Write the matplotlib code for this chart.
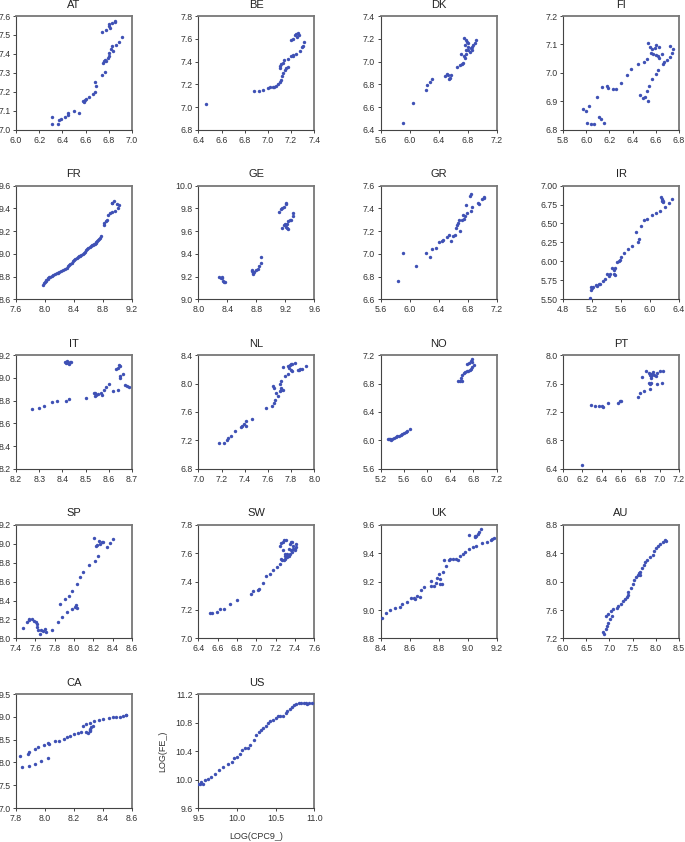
import numpy as np
import matplotlib
matplotlib.use("Agg")
import matplotlib.pyplot as plt

plt.rcParams['font.family'] = ['Liberation Sans', 'DejaVu Sans']

# --- data (x = LOG(CPC9_), y = LOG(FE_)) ---
at_x = [6.31, 6.31, 6.36, 6.37, 6.385, 6.42, 6.45, 6.45, 6.50, 6.54, 6.58, 6.595, 6.59, 6.60, 6.63, 6.66,
        6.68, 6.69, 6.68, 6.74, 6.77, 6.75, 6.755, 6.77, 6.78, 6.79, 6.80, 6.805, 6.816, 6.83, 6.84, 6.86,
        6.886, 6.91, 6.74, 6.78, 6.80, 6.81, 6.805, 6.83, 6.85, 6.855]
at_y = [7.067, 7.03, 7.03, 7.053, 7.06, 7.07, 7.08, 7.09, 7.10, 7.09, 7.15, 7.16, 7.145, 7.165, 7.175, 7.19,
        7.20, 7.23, 7.25, 7.29, 7.305, 7.355, 7.365, 7.37, 7.365, 7.38, 7.39, 7.405, 7.425, 7.44, 7.415, 7.445,
        7.465, 7.49, 7.515, 7.525, 7.545, 7.535, 7.56, 7.565, 7.57, 7.573]

be_x = [6.47, 6.884, 6.92, 6.96, 7.0, 7.02, 7.04, 7.05, 7.07, 7.09, 7.10, 7.11, 7.12, 7.134, 7.15, 7.16,
        7.17, 7.10, 7.10, 7.11, 7.13, 7.135, 7.17, 7.20, 7.22, 7.245, 7.22, 7.28, 7.29, 7.30, 7.31, 7.20,
        7.22, 7.23, 7.24, 7.25, 7.26, 7.27]
be_y = [7.03, 7.14, 7.14, 7.15, 7.165, 7.18, 7.175, 7.175, 7.186, 7.20, 7.22, 7.24, 7.27, 7.30, 7.33, 7.34,
        7.355, 7.34, 7.365, 7.38, 7.39, 7.41, 7.42, 7.445, 7.46, 7.47, 7.45, 7.49, 7.53, 7.54, 7.57, 7.59,
        7.60, 7.63, 7.645, 7.62, 7.65, 7.63]

dk_x = [5.91, 6.047, 6.22, 6.24, 6.28, 6.31, 6.49, 6.51, 6.53, 6.55, 6.57, 6.54, 6.65, 6.70, 6.72, 6.74,
        6.76, 6.71, 6.75, 6.78, 6.81, 6.78, 6.84, 6.86, 6.81, 6.77, 6.79, 6.75, 6.78, 6.88, 6.905, 6.92,
        6.83, 6.86, 6.81]
dk_y = [6.46, 6.634, 6.75, 6.795, 6.82, 6.845, 6.875, 6.89, 6.88, 6.86, 6.88, 6.85, 6.95, 6.97, 6.98, 6.99,
        7.03, 7.07, 7.05, 7.07, 7.10, 7.105, 7.12, 7.13, 7.13, 7.145, 7.175, 7.205, 7.19, 7.145, 7.165, 7.19,
        7.08, 7.10, 7.16]

fi_x = [5.974, 5.997, 6.02, 6.01, 6.04, 6.07, 6.11, 6.13, 6.15, 6.09, 6.14, 6.18, 6.19, 6.23, 6.26, 6.30,
        6.35, 6.39, 6.45, 6.50, 6.52, 6.53, 6.55, 6.57, 6.59, 6.60, 6.56, 6.58, 6.60, 6.62, 6.63, 6.63,
        6.65, 6.46, 6.49, 6.51, 6.53, 6.52, 6.54, 6.57, 6.60, 6.62, 6.66, 6.67, 6.70, 6.72, 6.74, 6.75, 6.72]
fi_y = [6.874, 6.868, 6.884, 6.826, 6.82, 6.82, 6.847, 6.837, 6.826, 6.917, 6.95, 6.955, 6.947, 6.945, 6.943,
        6.966, 6.993, 7.013, 7.03, 7.04, 7.05, 7.106, 7.092, 7.084, 7.089, 7.098, 7.07, 7.065, 7.063, 7.06,
        7.09, 7.052, 7.066, 6.923, 6.913, 6.917, 6.903, 6.937, 6.954, 6.98, 6.996, 7.01, 7.03, 7.04, 7.047,
        7.055, 7.07, 7.085, 7.096]

fr_x = [7.977, 7.99, 8.0, 8.01, 8.02, 8.035, 8.046, 8.06, 8.07, 8.09, 8.11, 8.135, 8.16, 8.18, 8.20, 8.225,
        8.25, 8.275, 8.30, 8.315, 8.33, 8.35, 8.37, 8.385, 8.40, 8.42, 8.44, 8.455, 8.47, 8.485, 8.50, 8.52,
        8.54, 8.55, 8.565, 8.58, 8.60, 8.615, 8.63, 8.645, 8.66, 8.675, 8.69, 8.70, 8.71, 8.72, 8.73, 8.745,
        8.76, 8.77, 8.81, 8.82, 8.835, 8.85, 8.87, 8.90, 8.92, 8.93, 8.95, 8.99, 9.02, 9.01, 8.96, 8.93]
fr_y = [8.73, 8.745, 8.755, 8.765, 8.77, 8.78, 8.79, 8.795, 8.80, 8.81, 8.815, 8.822, 8.83, 8.835, 8.84,
        8.85, 8.86, 8.87, 8.88, 8.89, 8.90, 8.91, 8.92, 8.935, 8.95, 8.955, 8.96, 8.97, 8.98, 8.985, 8.99,
        9.0, 9.01, 9.02, 9.03, 9.04, 9.05, 9.06, 9.07, 9.075, 9.08, 9.085, 9.09, 9.095, 9.10, 9.11, 9.12, 9.13,
        9.14, 9.16, 9.25, 9.27, 9.29, 9.30, 9.34, 9.36, 9.45, 9.45, 9.46, 9.44, 9.43, 9.40, 9.38, 9.37]

ge_x = [8.28, 8.31, 8.33, 8.34, 8.37, 8.35, 8.325, 8.74, 8.75, 8.77, 8.76, 8.80, 8.82, 8.84, 8.86, 8.87,
        8.74, 9.11, 9.14, 9.16, 9.18, 9.21, 9.215, 9.16, 9.18, 9.19, 9.21, 9.22, 9.24, 9.24, 9.26, 9.28,
        9.30, 9.31, 9.22]
ge_y = [9.20, 9.19, 9.185, 9.165, 9.155, 9.15, 9.196, 9.25, 9.23, 9.245, 9.22, 9.26, 9.27, 9.29, 9.32, 9.37,
        9.26, 9.77, 9.79, 9.80, 9.815, 9.835, 9.845, 9.63, 9.65, 9.66, 9.64, 9.63, 9.62, 9.69, 9.70, 9.70,
        9.73, 9.76, 9.66]

gr_x = [5.84, 5.91, 6.09, 6.22, 6.28, 6.31, 6.36, 6.41, 6.44, 6.46, 6.52, 6.54, 6.57, 6.60, 6.63, 6.64,
        6.65, 6.66, 6.68, 6.69, 6.72, 6.73, 6.75, 6.76, 6.78, 6.79, 6.84, 6.86, 6.83, 6.84, 6.94, 6.96,
        6.997, 7.02, 7.02]
gr_y = [6.76, 7.005, 6.89, 7.005, 6.975, 7.04, 7.05, 7.10, 7.11, 7.12, 7.15, 7.165, 7.115, 7.155, 7.17,
        7.225, 7.25, 7.275, 7.30, 7.20, 7.30, 7.34, 7.31, 7.33, 7.43, 7.36, 7.38, 7.41, 7.51, 7.525, 7.45,
        7.435, 7.48, 7.50, 7.49]

ir_x = [5.17, 5.18, 5.19, 5.20, 5.22, 5.25, 5.27, 5.29, 5.31, 5.35, 5.38, 5.40, 5.43, 5.45, 5.47, 5.50,
        5.51, 5.52, 5.52, 5.54, 5.57, 5.58, 5.60, 5.64, 5.69, 5.75, 5.80, 5.83, 5.85, 5.88, 5.92, 5.96,
        6.03, 6.08, 6.14, 6.15, 6.16, 6.17, 6.18, 6.18, 6.21, 6.26, 6.30]
ir_y = [5.52, 5.62, 5.66, 5.645, 5.665, 5.69, 5.675, 5.70, 5.71, 5.745, 5.775, 5.83, 5.81, 5.84, 5.91, 5.84,
        5.885, 5.92, 5.82, 5.99, 6.01, 6.02, 6.06, 6.11, 6.16, 6.20, 6.39, 6.25, 6.29, 6.47, 6.54, 6.56,
        6.61, 6.64, 6.66, 6.855, 6.82, 6.79, 6.78, 6.80, 6.72, 6.77, 6.825]

it_x = [8.27, 8.30, 8.32, 8.354, 8.378, 8.416, 8.43, 8.50, 8.535, 8.54, 8.547, 8.555, 8.54, 8.565, 8.57,
        8.58, 8.59, 8.60, 8.62, 8.64, 8.647, 8.65, 8.66, 8.63, 8.64, 8.645, 8.65, 8.67, 8.68, 8.687,
        8.41, 8.418, 8.425, 8.432, 8.435, 8.415, 8.42, 8.43]
it_y = [8.727, 8.736, 8.757, 8.786, 8.794, 8.80, 8.81, 8.82, 8.867, 8.84, 8.85, 8.86, 8.87, 8.87, 8.85,
        8.89, 8.92, 8.95, 8.88, 8.89, 8.997, 9.02, 9.03, 9.08, 9.09, 9.11, 9.10, 8.94, 8.93, 8.915,
        9.136, 9.142, 9.13, 9.14, 9.142, 9.128, 9.15, 9.125]

nl_x = [7.18, 7.22, 7.246, 7.26, 7.28, 7.32, 7.37, 7.38, 7.39, 7.41, 7.41, 7.46, 7.585, 7.635, 7.65, 7.66,
        7.67, 7.69, 7.70, 7.71, 7.71, 7.73, 7.64, 7.65, 7.70, 7.71, 7.75, 7.77, 7.73, 7.77, 7.79, 7.80,
        7.81, 7.83, 7.80, 7.81, 7.87, 7.88, 7.89, 7.93, 7.78, 7.86]
nl_y = [7.16, 7.17, 7.21, 7.23, 7.27, 7.34, 7.39, 7.41, 7.435, 7.40, 7.47, 7.50, 7.66, 7.69, 7.72, 7.77,
        7.87, 7.82, 7.89, 7.94, 7.91, 7.91, 7.96, 7.94, 8.0, 8.04, 8.10, 8.13, 8.23, 8.24, 8.26, 8.27,
        8.28, 8.29, 8.19, 8.17, 8.19, 8.20, 8.21, 8.25, 8.22, 8.19]

no_x = [5.33, 5.36, 5.37, 5.40, 5.43, 5.46, 5.49, 5.52, 5.55, 5.57, 5.60, 5.63, 5.66, 5.71, 5.34,
        6.54, 6.57, 6.59, 6.61, 6.63, 6.65, 6.69, 6.71, 6.74, 6.76, 6.78, 6.69, 6.73, 6.75, 6.77, 6.78,
        6.81, 6.61]
no_y = [6.027, 6.017, 6.008, 6.027, 6.04, 6.05, 6.06, 6.07, 6.075, 6.09, 6.11, 6.12, 6.13, 6.157, 6.017,
        6.83, 6.84, 6.875, 6.92, 6.945, 6.955, 6.97, 6.98, 6.99, 7.0, 7.03, 7.08, 7.09, 7.12, 7.14, 7.10,
        7.06, 6.84]

pt_x = [6.195, 6.286, 6.33, 6.37, 6.40, 6.41, 6.47, 6.57, 6.59, 6.60, 6.78, 6.80, 6.84, 6.90, 6.82, 6.86,
        6.89, 6.90, 6.91, 6.91, 6.92, 6.93, 6.94, 6.96, 6.97, 6.89, 6.91, 6.90, 6.97, 7.02, 7.00, 7.03, 6.91]
pt_y = [6.46, 7.30, 7.29, 7.29, 7.29, 7.27, 7.32, 7.32, 7.35, 7.35, 7.41, 7.46, 7.50, 7.52, 7.69, 7.78,
        7.75, 7.72, 7.70, 7.68, 7.74, 7.76, 7.72, 7.70, 7.75, 7.61, 7.61, 7.60, 7.60, 7.61, 7.77, 7.77, 7.73]

sp_x = [7.476, 7.51, 7.53, 7.53, 7.57, 7.59, 7.61, 7.62, 7.62, 7.63, 7.65, 7.66, 7.68, 7.70, 7.71, 7.77,
        7.83, 7.86, 7.88, 7.91, 7.93, 7.95, 7.98, 7.98, 8.01, 8.02, 8.03, 8.03, 8.06, 8.09, 8.16, 8.22,
        8.25, 8.21, 8.23, 8.24, 8.26, 8.27, 8.29, 8.30, 8.34, 8.37, 8.40]
sp_y = [8.11, 8.17, 8.19, 8.21, 8.21, 8.185, 8.17, 8.15, 8.125, 8.09, 8.045, 8.087, 8.08, 8.097, 8.07, 8.09,
        8.17, 8.365, 8.23, 8.42, 8.275, 8.45, 8.50, 8.31, 8.33, 8.35, 8.32, 8.57, 8.65, 8.70, 8.77, 8.82,
        8.87, 9.06, 8.97, 8.98, 9.03, 8.99, 9.02, 9.02, 8.96, 9.01, 9.05]

sw_x = [6.52, 6.54, 6.59, 6.62, 6.67, 6.73, 6.80, 6.94, 6.97, 7.02, 7.03, 7.07, 7.10, 7.14, 7.17, 7.21,
        7.25, 7.27, 7.29, 7.30, 7.32, 7.34, 7.35, 7.37, 7.38, 7.40, 7.41, 7.41, 7.40, 7.36, 7.34, 7.38,
        7.36, 7.37, 7.35, 7.28, 7.30, 7.25, 7.26, 7.28, 7.29, 7.31, 7.26, 7.30, 7.32]
sw_y = [7.18, 7.18, 7.186, 7.21, 7.21, 7.24, 7.27, 7.31, 7.33, 7.34, 7.35, 7.39, 7.44, 7.455, 7.48, 7.50,
        7.52, 7.55, 7.55, 7.56, 7.57, 7.58, 7.59, 7.61, 7.63, 7.63, 7.645, 7.66, 7.62, 7.62, 7.63, 7.65,
        7.675, 7.68, 7.66, 7.62, 7.59, 7.65, 7.67, 7.68, 7.69, 7.69, 7.555, 7.58, 7.59]

uk_x = [8.41, 8.435, 8.465, 8.50, 8.53, 8.55, 8.58, 8.61, 8.63, 8.64, 8.65, 8.67, 8.68, 8.70, 8.75, 8.75,
        8.77, 8.78, 8.79, 8.81, 8.82, 8.80, 8.81, 8.83, 8.85, 8.84, 8.87, 8.88, 8.90, 8.92, 8.93, 8.95,
        8.97, 8.98, 9.01, 9.04, 9.06, 9.10, 9.13, 9.16, 9.17, 9.18, 9.01, 9.05, 9.06, 9.07, 9.08, 9.09, 9.05]
uk_y = [8.946, 8.98, 9.0, 9.016, 9.023, 9.04, 9.058, 9.085, 9.085, 9.074, 9.10, 9.09, 9.14, 9.16, 9.206,
        9.17, 9.17, 9.19, 9.225, 9.185, 9.18, 9.25, 9.22, 9.27, 9.31, 9.35, 9.35, 9.355, 9.36, 9.355, 9.35,
        9.38, 9.39, 9.41, 9.43, 9.445, 9.45, 9.47, 9.48, 9.49, 9.50, 9.505, 9.525, 9.515, 9.52, 9.535, 9.55,
        9.57, 9.52]

au_x = [6.86, 6.89, 6.92, 6.94, 6.98, 7.01, 7.05, 6.93, 6.98, 7.03, 7.085, 7.16, 7.19, 7.25, 7.30, 7.33,
        7.37, 7.41, 7.41, 7.46, 7.50, 7.54, 7.58, 7.61, 7.65, 7.63, 7.67, 7.70, 7.74, 7.77, 7.82, 7.88,
        7.93, 7.96, 8.0, 8.05, 8.10, 8.16, 8.19, 8.21]
au_y = [7.29, 7.26, 7.34, 7.38, 7.42, 7.47, 7.52, 7.515, 7.54, 7.58, 7.62, 7.63, 7.65, 7.69, 7.72, 7.76,
        7.78, 7.81, 7.85, 7.91, 7.96, 8.025, 8.06, 8.09, 8.095, 8.12, 8.14, 8.19, 8.23, 8.27, 8.30, 8.34,
        8.37, 8.43, 8.47, 8.50, 8.53, 8.56, 8.58, 8.57]

ca_x = [7.83, 7.84, 7.89, 7.93, 7.97, 8.02, 7.88, 7.89, 7.93, 7.95, 7.99, 8.02, 8.03, 8.07, 8.10, 8.13,
        8.15, 8.17, 8.20, 8.23, 8.25, 8.28, 8.30, 8.31, 8.31, 8.32, 8.33, 8.31, 8.26, 8.28, 8.31, 8.34,
        8.37, 8.40, 8.44, 8.47, 8.49, 8.52, 8.54, 8.56, 8.56]
ca_y = [8.13, 7.89, 7.93, 7.96, 8.03, 8.09, 8.19, 8.22, 8.29, 8.33, 8.38, 8.42, 8.41, 8.46, 8.48, 8.52,
        8.55, 8.58, 8.62, 8.65, 8.66, 8.66, 8.65, 8.70, 8.73, 8.77, 8.80, 8.68, 8.80, 8.84, 8.86, 8.91,
        8.93, 8.95, 8.98, 8.99, 9.0, 9.0, 9.02, 9.04, 9.03]

us_x = [9.50, 9.52, 9.54, 9.56, 9.59, 9.63, 9.67, 9.71, 9.77, 9.82, 9.88, 9.93, 9.96, 10.0, 10.04, 10.07,
        10.10, 10.14, 10.17, 10.22, 10.25, 10.28, 10.31, 10.33, 10.37, 10.40, 10.43, 10.47, 10.50, 10.53,
        10.55, 10.60, 10.63, 10.65, 10.68, 10.71, 10.74, 10.76, 10.80, 10.83, 10.87, 10.89, 10.91, 10.93,
        10.97]
us_y = [9.94, 9.93, 9.96, 9.94, 10.0, 10.01, 10.04, 10.08, 10.13, 10.17, 10.22, 10.25, 10.30, 10.31, 10.36,
        10.41, 10.44, 10.44, 10.49, 10.56, 10.63, 10.66, 10.69, 10.72, 10.75, 10.79, 10.82, 10.84, 10.87,
        10.89, 10.89, 10.89, 10.93, 10.96, 10.99, 11.02, 11.05, 11.06, 11.07, 11.08, 11.08, 11.07, 11.055,
        11.08, 11.08]

countries = ["AT", "BE", "DK", "FI", "FR", "GE", "GR", "IR", "IT", "NL", "NO", "PT",
             "SP", "SW", "UK", "AU", "CA", "US"]
xs = [at_x, be_x, dk_x, fi_x, fr_x, ge_x, gr_x, ir_x, it_x, nl_x, no_x, pt_x,
      sp_x, sw_x, uk_x, au_x, ca_x, us_x]
ys = [at_y, be_y, dk_y, fi_y, fr_y, ge_y, gr_y, ir_y, it_y, nl_y, no_y, pt_y,
      sp_y, sw_y, uk_y, au_y, ca_y, us_y]

# axis ranges: (xmin, xmax, xstep), (ymin, ymax, ystep, decimals)
xaxes = [(6.0, 7.0, 0.2), (6.4, 7.4, 0.2), (5.6, 7.2, 0.4), (5.8, 6.8, 0.2), (7.6, 9.2, 0.4), (8.0, 9.6, 0.4),
         (5.6, 7.2, 0.4), (4.8, 6.4, 0.4), (8.2, 8.7, 0.1), (7.0, 8.0, 0.2), (5.2, 7.2, 0.4), (6.0, 7.2, 0.2),
         (7.4, 8.6, 0.2), (6.4, 7.6, 0.2), (8.4, 9.2, 0.2), (6.0, 8.5, 0.5), (7.8, 8.6, 0.2), (9.5, 11.0, 0.5)]
yaxes = [(7.0, 7.6, 0.1, 1), (6.8, 7.8, 0.2, 1), (6.4, 7.4, 0.2, 1), (6.8, 7.2, 0.1, 1), (8.6, 9.6, 0.2, 1),
         (9.0, 10.0, 0.2, 1), (6.6, 7.6, 0.2, 1), (5.5, 7.0, 0.25, 2), (8.2, 9.2, 0.2, 1), (6.8, 8.4, 0.4, 1),
         (5.6, 7.2, 0.4, 1), (6.4, 8.0, 0.4, 1), (8.0, 9.2, 0.2, 1), (7.0, 7.8, 0.2, 1), (8.8, 9.6, 0.2, 1),
         (7.2, 8.8, 0.4, 1), (7.0, 9.5, 0.5, 1), (9.6, 11.2, 0.4, 1)]

fig, axes = plt.subplots(5, 4, figsize=(6.85, 8.42), dpi=100,
                         gridspec_kw=dict(left=16/685, right=679/685, top=1-16/842, bottom=1-808/842,
                                          wspace=0.572, hspace=0.487))
axes = axes.ravel()
dot = "#3f51b5"

for i, ax in enumerate(axes):
    if i >= len(countries):
        ax.remove()
        continue
    ax.scatter(xs[i], ys[i], s=6, color=dot, linewidths=0, zorder=3)
    x0, x1, dx = xaxes[i]
    y0, y1, dy, nd = yaxes[i]
    ax.set_xlim(x0, x1)
    ax.set_ylim(y0, y1)
    xt = np.arange(x0, x1 + dx / 2, dx)
    yt = np.arange(y0, y1 + dy / 2, dy)
    ax.set_xticks(xt)
    ax.set_xticklabels([f"{v:.1f}" for v in xt])
    ax.set_yticks(yt)
    ax.set_yticklabels([f"{v:.{nd}f}" for v in yt])
    ax.tick_params(labelsize=6.3, labelcolor="#333333", color="#444444", length=2.5, width=0.7, pad=1.5)
    for side in ["left", "bottom"]:
        ax.spines[side].set_color("#444444")
        ax.spines[side].set_linewidth(0.8)
    for side in ["top", "right"]:
        ax.spines[side].set_color("#777777")
        ax.spines[side].set_linewidth(1.3)
    ax.set_title(countries[i], fontsize=8, color="#222222", pad=6)

axes[17].set_xlabel("LOG(CPC9_)", fontsize=6.5, color="#333333", labelpad=7)
axes[17].set_ylabel("LOG(FE_)", fontsize=6.5, color="#333333", labelpad=6)

fig.savefig("out.png", dpi=100)
